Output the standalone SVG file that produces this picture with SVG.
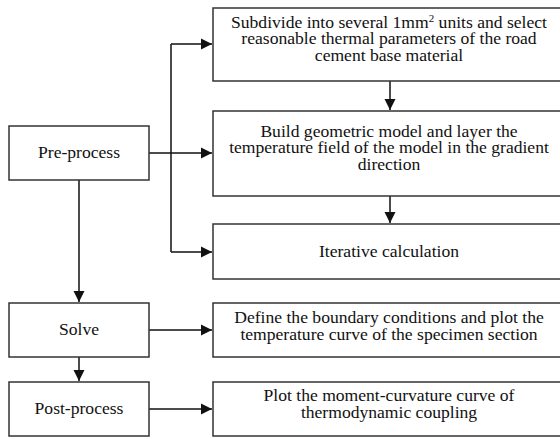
<svg xmlns="http://www.w3.org/2000/svg" width="560" height="439" viewBox="0 0 560 439">
<style>
.box{fill:#fff;stroke:#333;stroke-width:1.5}
.ln{fill:none;stroke:#111;stroke-width:1.5}
.t{font-family:'Liberation Serif','DejaVu Serif',serif;font-size:16px;fill:#111;text-anchor:middle}
</style>
<defs>
<marker id="ah" markerUnits="userSpaceOnUse" markerWidth="12" markerHeight="12" viewBox="0 0 12 12" refX="11" refY="6" orient="auto">
<path d="M0,0.5 L11,6 L0,11.5 Z" fill="#111"/>
</marker>
</defs>
<rect width="560" height="439" fill="#fff"/>
<g id="connectors">
<path class="ln" d="M149,153 H212" marker-end="url(#ah)"/>
<path class="ln" d="M171,252 V44"/>
<path class="ln" d="M171,44 H212" marker-end="url(#ah)"/>
<path class="ln" d="M171,252 H212" marker-end="url(#ah)"/>
<path class="ln" d="M390,81 V110" marker-end="url(#ah)"/>
<path class="ln" d="M390,196 V223" marker-end="url(#ah)"/>
<path class="ln" d="M79,180 V302" marker-end="url(#ah)"/>
<path class="ln" d="M79,357 V381" marker-end="url(#ah)"/>
<path class="ln" d="M149,330 H212" marker-end="url(#ah)"/>
<path class="ln" d="M149,409 H212" marker-end="url(#ah)"/>
</g>
<g id="pre">
<rect class="box" x="9" y="126" width="140" height="54"/>
<g transform="translate(79,0) scale(1.1,1)"><text class="t" font-family="Liberation Serif, serif" x="0" y="158">Pre-process</text></g>
</g>
<g id="solve">
<rect class="box" x="9" y="303" width="140" height="54"/>
<g transform="translate(79,0) scale(1.1,1)"><text class="t" font-family="Liberation Serif, serif" x="0" y="335">Solve</text></g>
</g>
<g id="post">
<rect class="box" x="9" y="382" width="140" height="54"/>
<g transform="translate(79,0) scale(1.1,1)"><text class="t" font-family="Liberation Serif, serif" x="0" y="414">Post-process</text></g>
</g>
<g id="subdivide">
<rect class="box" x="213" y="8" width="352" height="73"/>
<g transform="translate(389,0) scale(1.1,1)">
<text class="t" font-family="Liberation Serif, serif" x="0" y="28">Subdivide into several 1mm<tspan font-size="10" dy="-6">2</tspan><tspan dy="6"> units and select</tspan></text>
<text class="t" font-family="Liberation Serif, serif" x="0" y="44.5">reasonable thermal parameters of the road</text>
<text class="t" font-family="Liberation Serif, serif" x="0" y="61">cement base material</text>
</g>
</g>
<g id="build">
<rect class="box" x="213" y="111" width="352" height="85"/>
<g transform="translate(389,0) scale(1.1,1)">
<text class="t" font-family="Liberation Serif, serif" x="0" y="137">Build geometric model and layer the</text>
<text class="t" font-family="Liberation Serif, serif" x="0" y="153.5">temperature field of the model in the gradient</text>
<text class="t" font-family="Liberation Serif, serif" x="0" y="170">direction</text>
</g>
</g>
<g id="iterative">
<rect class="box" x="213" y="224" width="352" height="55"/>
<g transform="translate(389,0) scale(1.1,1)"><text class="t" font-family="Liberation Serif, serif" x="0" y="257">Iterative calculation</text></g>
</g>
<g id="define">
<rect class="box" x="213" y="303" width="352" height="54"/>
<g transform="translate(389,0) scale(1.1,1)">
<text class="t" font-family="Liberation Serif, serif" x="0" y="323">Define the boundary conditions and plot the</text>
<text class="t" font-family="Liberation Serif, serif" x="0" y="340">temperature curve of the specimen section</text>
</g>
</g>
<g id="plot">
<rect class="box" x="213" y="382" width="352" height="54"/>
<g transform="translate(389,0) scale(1.1,1)">
<text class="t" font-family="Liberation Serif, serif" x="0" y="401">Plot the moment-curvature curve of</text>
<text class="t" font-family="Liberation Serif, serif" x="0" y="418">thermodynamic coupling</text>
</g>
</g>
</svg>
